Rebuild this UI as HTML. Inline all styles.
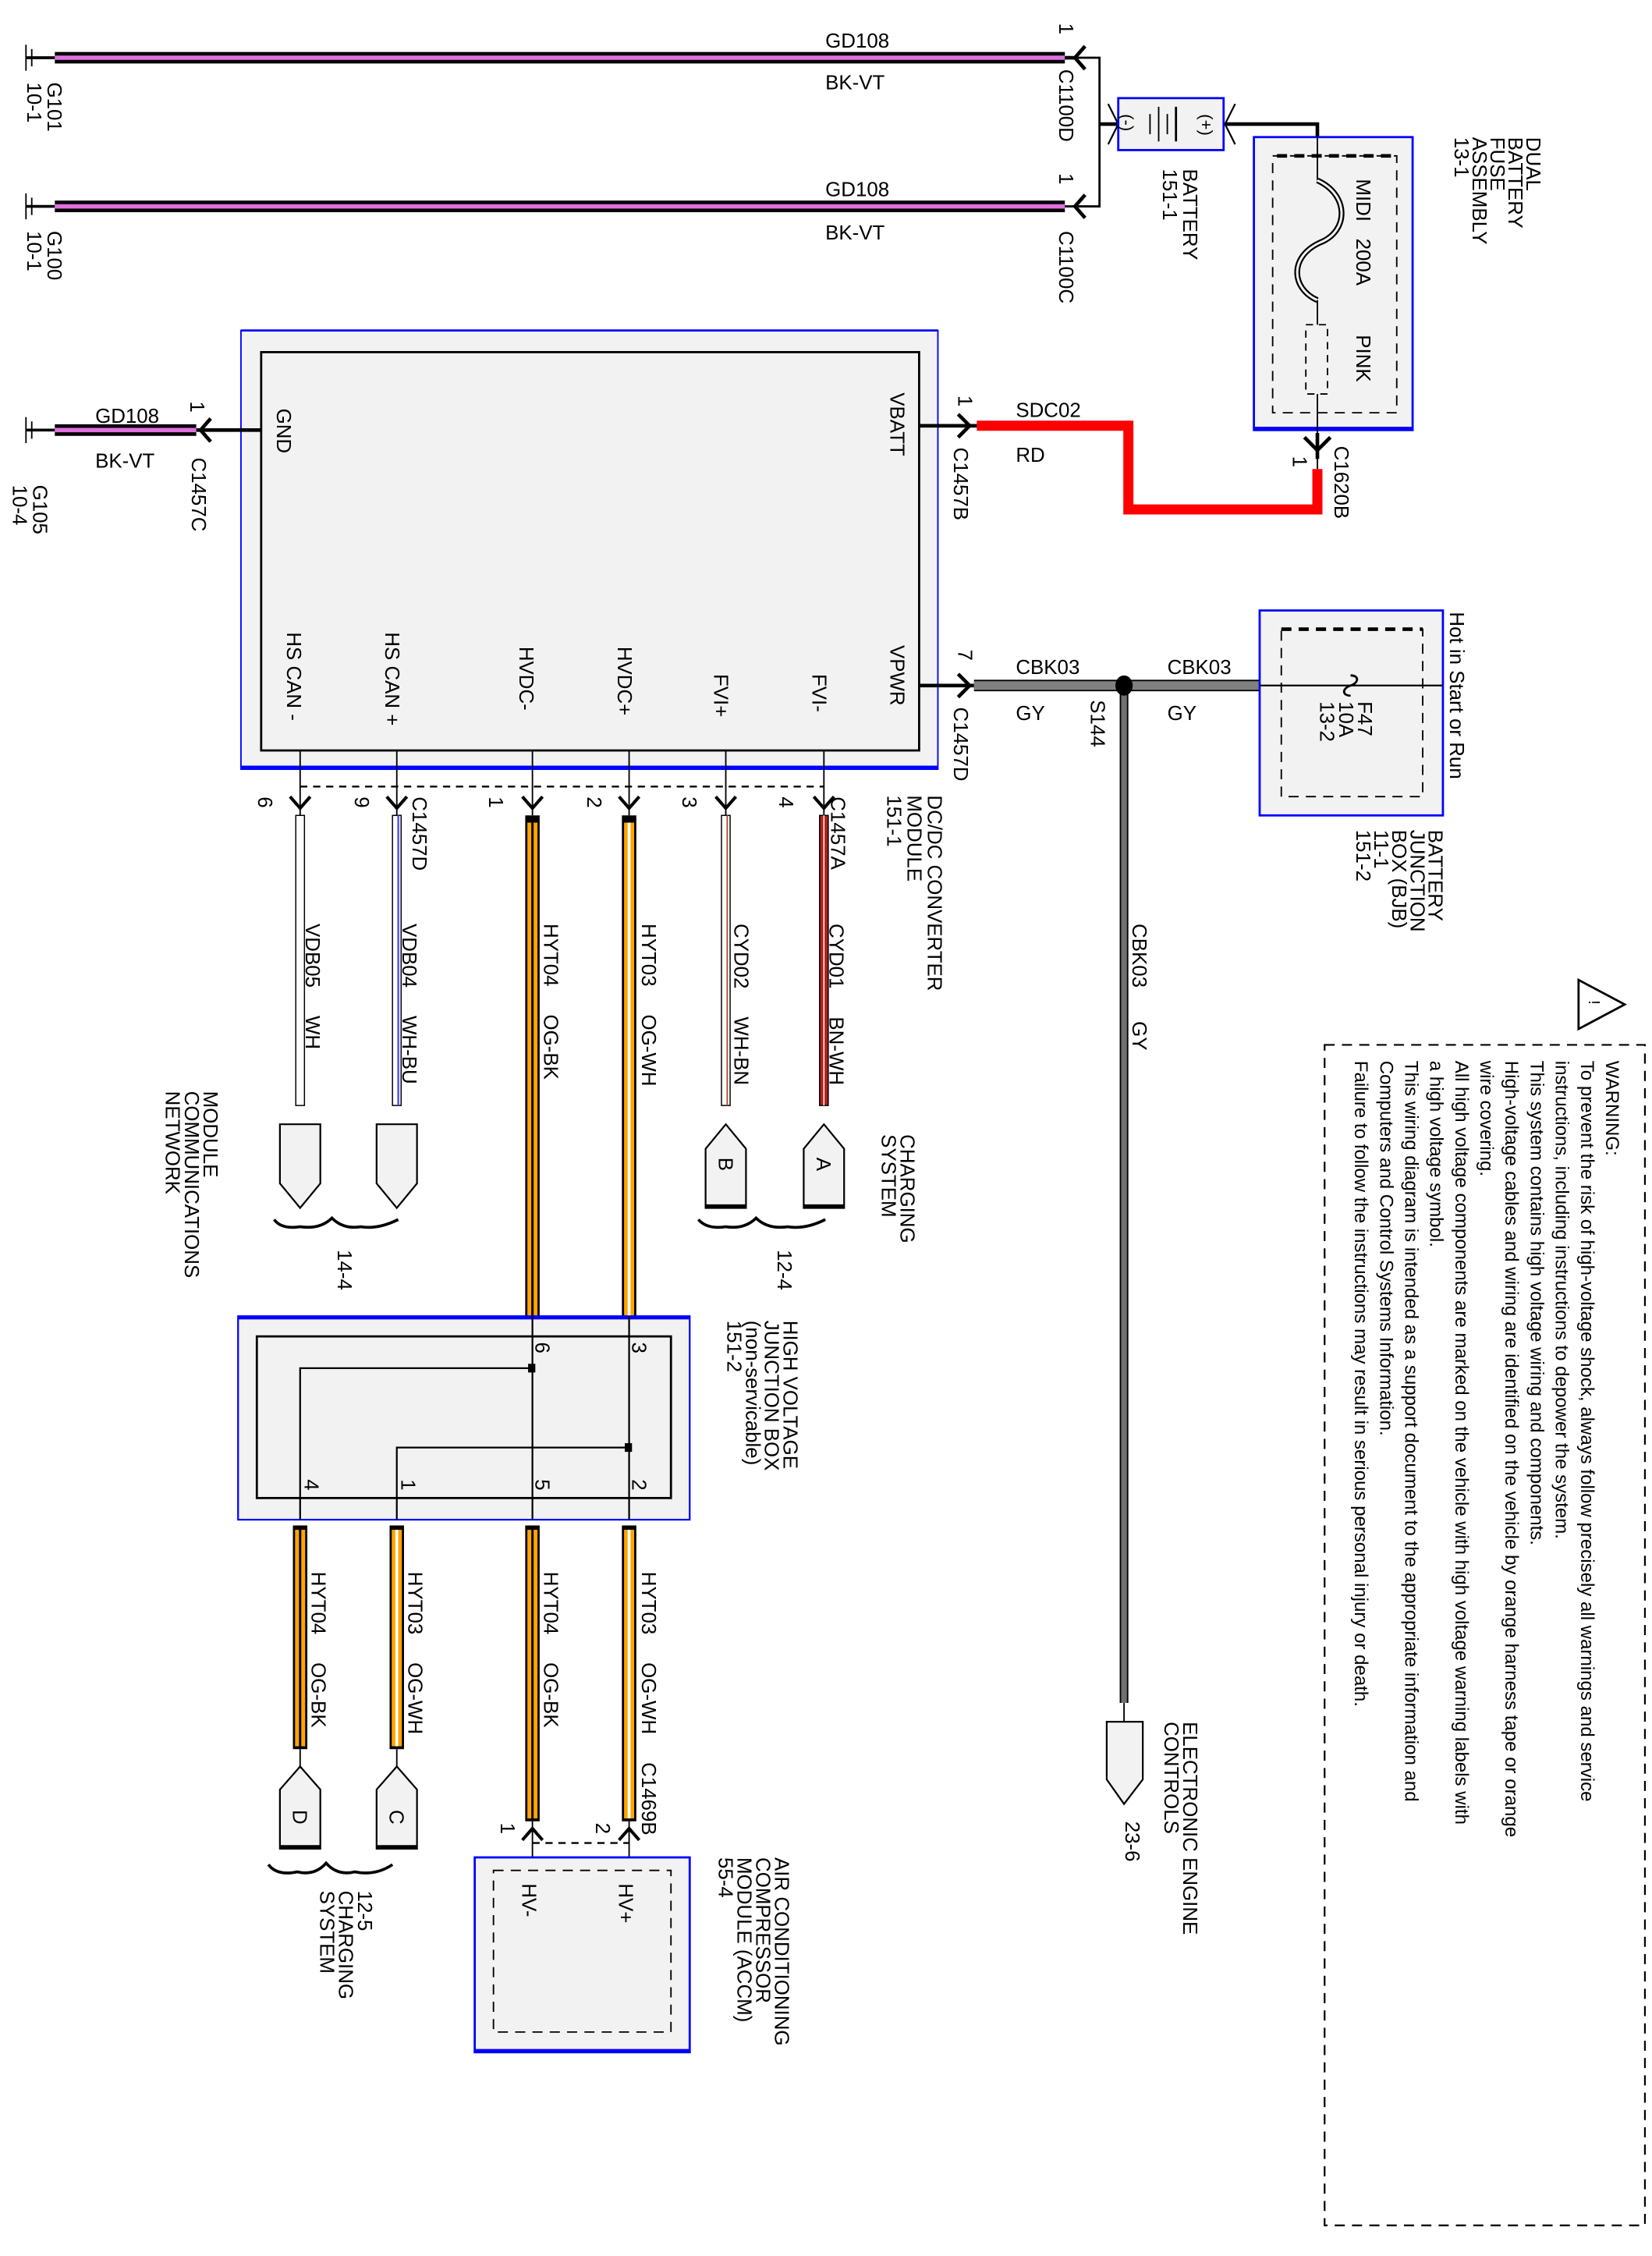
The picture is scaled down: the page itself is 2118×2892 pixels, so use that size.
<!DOCTYPE html>
<html><head><meta charset="utf-8"><style>
html,body{margin:0;padding:0;background:#fff;}
svg{display:block;}
text{font-family:"Liberation Sans",sans-serif;fill:#000;white-space:pre;}
</style></head><body>
<svg xml:space="preserve" width="2118" height="2892" viewBox="0 0 1144.9 1563.2" preserveAspectRatio="none" xmlns="http://www.w3.org/2000/svg">
<g font-size="14">
<!-- top ground wires -->
<line x1="18" y1="40" x2="38" y2="40" stroke="#000" stroke-width="2"/>
<line x1="18" y1="31" x2="18" y2="49" stroke="#000"/><line x1="22" y1="34" x2="22" y2="46" stroke="#000"/>
<line x1="38" y1="40" x2="738" y2="40" stroke="#000" stroke-width="8"/>
<line x1="38" y1="40" x2="738" y2="40" stroke="#e070e0" stroke-width="3"/>
<line x1="18" y1="143" x2="38" y2="143" stroke="#000" stroke-width="2"/>
<line x1="18" y1="134" x2="18" y2="152" stroke="#000"/><line x1="22" y1="137" x2="22" y2="149" stroke="#000"/>
<line x1="38" y1="143" x2="738" y2="143" stroke="#000" stroke-width="8"/>
<line x1="38" y1="143" x2="738" y2="143" stroke="#e070e0" stroke-width="3"/>
<text x="572" y="33">GD108</text><text x="572" y="62">BK-VT</text>
<text x="572" y="136">GD108</text><text x="572" y="166">BK-VT</text>
<text transform="translate(33,57) rotate(90)">G101<tspan x="0" dy="14">10-1</tspan></text>
<text transform="translate(33,160) rotate(90)">G100<tspan x="0" dy="14">10-1</tspan></text>
<!-- connectors C1100D/C -->
<path d="M738 40 H762 V143 H738" fill="none" stroke="#000" stroke-width="1.5"/>
<path d="M752 32 L745 40 L752 48 M745 40 H738" fill="none" stroke="#000" stroke-width="2.5"/>
<path d="M752 135 L745 143 L752 151" fill="none" stroke="#000" stroke-width="2.5"/>
<text transform="translate(734,16) rotate(90)">1</text>
<text transform="translate(734,48) rotate(90)">C1100D</text>
<text transform="translate(734,120) rotate(90)">1</text>
<text transform="translate(734,160) rotate(90)">C1100C</text>
<!-- battery -->
<line x1="762" y1="86" x2="775" y2="86" stroke="#000" stroke-width="2.5"/>
<path d="M768 72 L775 86 L768 100" fill="none" stroke="#000" stroke-width="1.2"/>
<rect x="775" y="68" width="73" height="36" fill="#f2f2f2" stroke="#0000ff" stroke-width="1.5"/>
<text transform="translate(777,79) rotate(90)" font-size="12">(-)</text>
<text transform="translate(832,79) rotate(90)" font-size="12">(+)</text>
<line x1="797" y1="79" x2="797" y2="93" stroke="#000"/><line x1="803" y1="74" x2="803" y2="98" stroke="#000"/>
<line x1="809" y1="79" x2="809" y2="93" stroke="#000"/><line x1="815" y1="74" x2="815" y2="98" stroke="#000" stroke-width="1.5"/>
<path d="M856 72 L849 86 L856 100" fill="none" stroke="#000" stroke-width="1.2"/>
<path d="M849 86 H913 V125" fill="none" stroke="#000" stroke-width="2.5"/>
<text transform="translate(820,117) rotate(90)">BATTERY<tspan x="0" dy="14">151-1</tspan></text>
<!-- DBFA -->
<rect x="869" y="95" width="110" height="203" fill="#f2f2f2" stroke="#0000ff" stroke-width="1.5"/>
<line x1="869" y1="297" x2="979" y2="297" stroke="#0000ff" stroke-width="2.5"/>
<rect x="882" y="108" width="86" height="178" fill="none" stroke="#000" stroke-dasharray="7,5" stroke-width="1"/>
<line x1="885" y1="108" x2="968" y2="108" stroke="#000" stroke-width="2.5" stroke-dasharray="7,5"/>
<line x1="913" y1="86" x2="913" y2="125" stroke="#000" stroke-width="1"/>
<path d="M913 125 C935 135 935 160 915 168 C893 178 895 200 913 208" fill="none" stroke="#000" stroke-width="4"/>
<path d="M913 125 C935 135 935 160 915 168 C893 178 895 200 913 208" fill="none" stroke="#f2f2f2" stroke-width="1.6"/>
<line x1="913" y1="208" x2="913" y2="225" stroke="#000"/>
<rect x="905" y="225" width="15" height="48" fill="none" stroke="#000" stroke-dasharray="5,4"/>
<line x1="913" y1="273" x2="913" y2="325" stroke="#000"/>
<text transform="translate(940,124) rotate(90)">MIDI   200A         PINK</text>
<text transform="translate(1058,95) rotate(90)">DUAL<tspan x="0" dy="12.5">BATTERY</tspan><tspan x="0" dy="12.5">FUSE</tspan><tspan x="0" dy="12.5">ASSEMBLY</tspan><tspan x="0" dy="12.5">13-1</tspan></text>
<path d="M904 303 L913 312 L922 303 M913 300 V318" fill="none" stroke="#000" stroke-width="2.5"/>
<text transform="translate(896,316) rotate(90)">1</text>
<text transform="translate(925,309) rotate(90)">C1620B</text>
<!-- red wire -->
<path d="M677 295 H782 V353 H913 V325" fill="none" stroke="#ff0000" stroke-width="7"/>
<text x="704" y="289">SDC02</text><text x="704" y="320">RD</text>
<!-- DC/DC module -->
<rect x="167" y="229" width="483" height="304" fill="#f2f2f2" stroke="#0000ff" stroke-width="1"/>
<line x1="167" y1="532" x2="650" y2="532" stroke="#0000ff" stroke-width="3"/>
<line x1="167" y1="229" x2="650" y2="229" stroke="#0000ff" stroke-width="1.5"/>
<rect x="181" y="244" width="456" height="276" fill="#f2f2f2" stroke="#000" stroke-width="1.5"/>
<path d="M637 295 H677" stroke="#000" stroke-width="2.5"/>
<path d="M664 287 L672 295 L664 303" fill="none" stroke="#000" stroke-width="2.5"/>
<text transform="translate(664,274) rotate(90)">1</text>
<text transform="translate(661,310) rotate(90)">C1457B</text>
<text transform="translate(617,272) rotate(90)">VBATT</text>
<text transform="translate(192,283) rotate(90)">GND</text>
<!-- GND stub -->
<line x1="18" y1="298" x2="38" y2="298" stroke="#000" stroke-width="2"/>
<line x1="18" y1="289" x2="18" y2="307" stroke="#000"/><line x1="22" y1="292" x2="22" y2="304" stroke="#000"/>
<line x1="38" y1="298" x2="136" y2="298" stroke="#000" stroke-width="8"/>
<line x1="38" y1="298" x2="136" y2="298" stroke="#e070e0" stroke-width="3"/>
<line x1="136" y1="298" x2="181" y2="298" stroke="#000" stroke-width="2.5"/>
<path d="M146 290 L139 298 L146 306" fill="none" stroke="#000" stroke-width="2.5"/>
<text x="66" y="293">GD108</text><text x="66" y="324">BK-VT</text>
<text transform="translate(23,336) rotate(90)">G105<tspan x="0" dy="14">10-4</tspan></text>
<text transform="translate(132,278) rotate(90)">1</text>
<text transform="translate(133,317) rotate(90)">C1457C</text>
<!-- pin labels -->
<text transform="translate(617,447) rotate(90)">VPWR</text>
<text transform="translate(563,467) rotate(90)">FVI-</text>
<text transform="translate(495,467) rotate(90)">FVI+</text>
<text transform="translate(428,448) rotate(90)">HVDC+</text>
<text transform="translate(360,448) rotate(90)">HVDC-</text>
<text transform="translate(267,438) rotate(90)">HS CAN +</text>
<text transform="translate(199,438) rotate(90)">HS CAN -</text>
<!-- gray wire -->
<line x1="637" y1="475" x2="675" y2="475" stroke="#000" stroke-width="2.5"/>
<path d="M664 467 L672 475 L664 483" fill="none" stroke="#000" stroke-width="2.5"/>
<line x1="675" y1="475" x2="873" y2="475" stroke="#000" stroke-width="8"/>
<line x1="675" y1="475" x2="873" y2="475" stroke="#808080" stroke-width="6"/>
<line x1="779" y1="475" x2="779" y2="1180" stroke="#000" stroke-width="6"/>
<line x1="779" y1="475" x2="779" y2="1180" stroke="#707070" stroke-width="4"/>
<ellipse cx="779" cy="475" rx="6" ry="7" fill="#000"/>
<text x="704" y="467">CBK03</text><text x="809" y="467">CBK03</text>
<text x="704" y="499">GY</text><text x="809" y="499">GY</text>
<text transform="translate(756,485) rotate(90)">S144</text>
<text transform="translate(664,450) rotate(90)">7</text>
<text transform="translate(661,490) rotate(90)">C1457D</text>
<!-- BJB -->
<rect x="873" y="423" width="127" height="142" fill="#f2f2f2" stroke="#0000ff" stroke-width="1.5"/>
<rect x="888" y="436" width="98" height="116" fill="none" stroke="#000" stroke-dasharray="7,5"/>
<line x1="888" y1="436" x2="986" y2="436" stroke="#000" stroke-width="2.5" stroke-dasharray="7,5"/>
<line x1="873" y1="475" x2="1000" y2="475" stroke="#000" stroke-width="1.2"/>
<path d="M936 468 C942 468 942 473 936 475 C930 477 930 482 936 482" fill="none" stroke="#000" stroke-width="1.5"/>
<text transform="translate(941,486) rotate(90)">F47<tspan x="0" dy="13">10A</tspan><tspan x="0" dy="13">13-2</tspan></text>
<text transform="translate(1005,424) rotate(90)">Hot in Start or Run</text>
<text transform="translate(990,575) rotate(90)">BATTERY<tspan x="0" dy="12.5">JUNCTION</tspan><tspan x="0" dy="12.5">BOX (BJB)</tspan><tspan x="0" dy="12.5">11-1</tspan><tspan x="0" dy="12.5">151-2</tspan></text>
<text transform="translate(785,640) rotate(90)">CBK03      GY</text>
<!-- lower connectors of DC/DC -->
<line x1="208" y1="545" x2="571" y2="545" stroke="#000" stroke-dasharray="5,4" stroke-width="1.3"/>
<g stroke="#000" fill="none" stroke-width="2.2">
<path d="M201 552 L208 560 L215 552"/><path d="M268 552 L275 560 L282 552"/>
<path d="M362 552 L369 560 L376 552"/><path d="M429 552 L436 560 L443 552"/>
<path d="M496 552 L503 560 L510 552"/><path d="M564 552 L571 560 L578 552"/>
</g>
<g stroke="#000" stroke-width="1">
<line x1="208" y1="520" x2="208" y2="565"/><line x1="275" y1="520" x2="275" y2="565"/>
<line x1="369" y1="520" x2="369" y2="565"/><line x1="436" y1="520" x2="436" y2="565"/>
<line x1="503" y1="520" x2="503" y2="565"/><line x1="571" y1="520" x2="571" y2="565"/>
</g>
<text transform="translate(179,552) rotate(90)">6</text><text transform="translate(246,552) rotate(90)">9</text>
<text transform="translate(339,552) rotate(90)">1</text><text transform="translate(407,552) rotate(90)">2</text>
<text transform="translate(473,552) rotate(90)">3</text><text transform="translate(540,552) rotate(90)">4</text>
<text transform="translate(286,552) rotate(90)">C1457D</text>
<text transform="translate(576,552) rotate(90)">C1457A</text>
<text transform="translate(643,551) rotate(90)">DC/DC CONVERTER<tspan x="0" dy="14">MODULE</tspan><tspan x="0" dy="14">151-1</tspan></text>
<!-- thin wires -->
<rect x="205" y="565" width="6" height="201" fill="#fff" stroke="#000" stroke-width="0.8"/>
<rect x="272" y="565" width="6" height="201" fill="#fff" stroke="#000" stroke-width="0.8"/>
<line x1="276" y1="565" x2="276" y2="766" stroke="#4040ff" stroke-width="1.2"/>
<rect x="500" y="565" width="6" height="201" fill="#fff" stroke="#000" stroke-width="0.8"/>
<line x1="504" y1="565" x2="504" y2="766" stroke="#a05030" stroke-width="1"/>
<rect x="568" y="565" width="6" height="201" fill="#b02020" stroke="#000" stroke-width="0.8"/>
<line x1="571" y1="565" x2="571" y2="766" stroke="#fff" stroke-width="0.8"/>
<!-- HV thick wires upper -->
<g>
<rect x="364" y="565" width="10" height="347" fill="#000"/><rect x="365.5" y="570" width="7" height="342" fill="#ffa500"/><rect x="368.2" y="570" width="1.6" height="342" fill="#000"/>
<rect x="431" y="565" width="10" height="347" fill="#000"/><rect x="432.5" y="570" width="7" height="342" fill="#ffa500"/><rect x="435" y="570" width="2" height="342" fill="#fff"/>
</g>
<text transform="translate(212,640) rotate(90)">VDB05     WH</text>
<text transform="translate(279,640) rotate(90)">VDB04     WH-BU</text>
<text transform="translate(377,640) rotate(90)">HYT04     OG-BK</text>
<text transform="translate(445,640) rotate(90)">HYT03     OG-WH</text>
<text transform="translate(509,640) rotate(90)">CYD02     WH-BN</text>
<text transform="translate(575,640) rotate(90)">CYD01     BN-WH</text>
<!-- pentagons -->
<g fill="#f2f2f2" stroke="#000" stroke-width="1.2">
<path d="M194 779 H222 V820 L208 837 L194 820 Z"/>
<path d="M261 779 H289 V820 L275 837 L261 820 Z"/>
<path d="M489 837 V796 L503 779 L517 796 V837 Z"/>
<path d="M557 837 V796 L571 779 L585 796 V837 Z"/>
</g>
<line x1="489" y1="836" x2="517" y2="836" stroke="#000" stroke-width="3"/>
<line x1="557" y1="836" x2="585" y2="836" stroke="#000" stroke-width="3"/>
<text transform="translate(498,802) rotate(90)">B</text><text transform="translate(566,802) rotate(90)">A</text>
<path d="M190 845 Q195 852 208 850 Q222 852 230 844 Q238 852 250 850 Q262 852 276 845" fill="none" stroke="#000" stroke-width="2"/>
<path d="M484 845 Q490 852 503 850 Q516 852 524 844 Q532 852 546 850 Q558 852 572 845" fill="none" stroke="#000" stroke-width="2"/>
<text transform="translate(234,866) rotate(90)">14-4</text>
<text transform="translate(539,866) rotate(90)">12-4</text>
<text transform="translate(141,756) rotate(90)">MODULE<tspan x="0" dy="13">COMMUNICATIONS</tspan><tspan x="0" dy="13">NETWORK</tspan></text>
<text transform="translate(624,786) rotate(90)">CHARGING<tspan x="0" dy="13">SYSTEM</tspan></text>
<!-- HV junction box -->
<rect x="165" y="912" width="313" height="141" fill="#f2f2f2" stroke="#0000ff" stroke-width="1.2"/>
<line x1="165" y1="913" x2="478" y2="913" stroke="#0000ff" stroke-width="2.5"/>
<rect x="178" y="926" width="287" height="112" fill="none" stroke="#000" stroke-width="1.5"/>
<g stroke="#000" stroke-width="1.2" fill="none">
<line x1="369" y1="912" x2="369" y2="1053"/><line x1="436" y1="912" x2="436" y2="1053"/>
<path d="M369 948 H208 V1053"/><path d="M436 1003 H275 V1053"/>
</g>
<rect x="366" y="945" width="5" height="6" fill="#000"/><rect x="433" y="1000" width="5" height="6" fill="#000"/>
<text transform="translate(371,930) rotate(90)">6</text><text transform="translate(438,930) rotate(90)">3</text>
<text transform="translate(211,1025) rotate(90)">4</text><text transform="translate(278,1025) rotate(90)">1</text>
<text transform="translate(371,1025) rotate(90)">5</text><text transform="translate(438,1025) rotate(90)">2</text>
<text transform="translate(543,915) rotate(90)">HIGH VOLTAGE<tspan x="0" dy="13">JUNCTION BOX</tspan><tspan x="0" dy="13">(non-servicable)</tspan><tspan x="0" dy="13">151-2</tspan></text>
<!-- HV lower wires -->
<g>
<rect x="203" y="1057" width="10" height="155" fill="#000"/><rect x="204.5" y="1060" width="7" height="150" fill="#ffa500"/><rect x="207.2" y="1060" width="1.6" height="150" fill="#000"/>
<rect x="270" y="1057" width="10" height="155" fill="#000"/><rect x="271.5" y="1060" width="7" height="150" fill="#ffa500"/><rect x="274" y="1060" width="2" height="150" fill="#fff"/>
<rect x="364" y="1057" width="10" height="205" fill="#000"/><rect x="365.5" y="1060" width="7" height="200" fill="#ffa500"/><rect x="368.2" y="1060" width="1.6" height="200" fill="#000"/>
<rect x="431" y="1057" width="10" height="205" fill="#000"/><rect x="432.5" y="1060" width="7" height="200" fill="#ffa500"/><rect x="435" y="1060" width="2" height="200" fill="#fff"/>
</g>
<text transform="translate(216,1089) rotate(90)">HYT04     OG-BK</text>
<text transform="translate(283,1089) rotate(90)">HYT03     OG-WH</text>
<text transform="translate(377,1089) rotate(90)">HYT04     OG-BK</text>
<text transform="translate(445,1089) rotate(90)">HYT03     OG-WH     C1469B</text>
<line x1="208" y1="1212" x2="208" y2="1224" stroke="#000"/><line x1="275" y1="1212" x2="275" y2="1224" stroke="#000"/>
<g fill="#f2f2f2" stroke="#000" stroke-width="1.2">
<path d="M194 1281 V1240 L208 1224 L222 1240 V1281 Z"/>
<path d="M261 1281 V1240 L275 1224 L289 1240 V1281 Z"/>
</g>
<line x1="194" y1="1280" x2="222" y2="1280" stroke="#000" stroke-width="3"/>
<line x1="261" y1="1280" x2="289" y2="1280" stroke="#000" stroke-width="3"/>
<text transform="translate(203,1254) rotate(90)">D</text><text transform="translate(270,1254) rotate(90)">C</text>
<path d="M186 1292 Q192 1300 206 1297 Q218 1300 226 1291 Q234 1300 246 1297 Q260 1300 272 1292" fill="none" stroke="#000" stroke-width="2"/>
<text transform="translate(248,1310) rotate(90)">12-5<tspan x="0" dy="13">CHARGING</tspan><tspan x="0" dy="13">SYSTEM</tspan></text>
<!-- ACCM -->
<g stroke="#000" fill="none" stroke-width="2.2">
<path d="M362 1275 L369 1267 L376 1275"/><path d="M429 1275 L436 1267 L443 1275"/>
</g>
<line x1="369" y1="1262" x2="369" y2="1300" stroke="#000"/><line x1="436" y1="1262" x2="436" y2="1300" stroke="#000"/>
<line x1="369" y1="1277" x2="436" y2="1277" stroke="#000" stroke-dasharray="5,4" stroke-width="1.3"/>
<text transform="translate(347,1263) rotate(90)">1</text><text transform="translate(413,1263) rotate(90)">2</text>
<rect x="329" y="1287" width="149" height="135" fill="#f2f2f2" stroke="#0000ff" stroke-width="1.5"/>
<line x1="329" y1="1421" x2="478" y2="1421" stroke="#0000ff" stroke-width="2.5"/>
<rect x="342" y="1296" width="123" height="112" fill="none" stroke="#000" stroke-dasharray="7,5"/>
<text transform="translate(362,1305) rotate(90)">HV-</text>
<text transform="translate(429,1305) rotate(90)">HV+</text>
<text transform="translate(537,1287) rotate(90)">AIR CONDITIONING<tspan x="0" dy="13">COMPRESSOR</tspan><tspan x="0" dy="13">MODULE (ACCM)</tspan><tspan x="0" dy="13">55-4</tspan></text>
<!-- ECC -->
<line x1="779" y1="1180" x2="779" y2="1193" stroke="#000"/>
<path d="M767 1193 H792 V1233 L779 1250 L767 1233 Z" fill="#f2f2f2" stroke="#000" stroke-width="1.2"/>
<text transform="translate(820,1193) rotate(90)">ELECTRONIC ENGINE<tspan x="0" dy="13">CONTROLS</tspan></text>
<text transform="translate(780,1262) rotate(90)">23-6</text>
<!-- warning -->
<path d="M1126 696 L1094 679 L1094 713 Z" fill="#fff" stroke="#000" stroke-width="1.5"/>
<text transform="translate(1101,693) rotate(90)" font-size="11">!</text>
<rect x="918" y="724" width="222" height="818" fill="none" stroke="#000" stroke-dasharray="7,5" stroke-width="1.2"/>
<text transform="translate(1113,735) rotate(90)" font-size="13">WARNING:<tspan x="0" dy="17.4">To prevent the risk of high-voltage shock, always follow precisely all warnings and service</tspan><tspan x="0" dy="17.4">instructions, including instructions to depower the system.</tspan><tspan x="0" dy="17.4">This system contains high voltage wiring and components.</tspan><tspan x="0" dy="17.4">High-voltage cables and wiring are identified on the vehicle by orange harness tape or orange</tspan><tspan x="0" dy="17.4">wire covering.</tspan><tspan x="0" dy="17.4">All high voltage components are marked on the vehicle with high voltage warning labels with</tspan><tspan x="0" dy="17.4">a high voltage symbol.</tspan><tspan x="0" dy="17.4">This wiring diagram is intended as a support document to the appropriate information and</tspan><tspan x="0" dy="17.4">Computers and Control Systems Information.</tspan><tspan x="0" dy="17.4">Failure to follow the instructions may result in serious personal injury or death.</tspan></text>
</g>
</svg>
</body></html>
